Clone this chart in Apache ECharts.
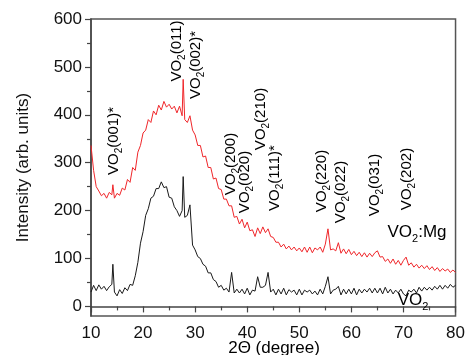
<!DOCTYPE html>
<html>
<head>
<meta charset="utf-8">
<script src="https://cdn.jsdelivr.net/npm/echarts@6/dist/echarts.min.js"></script>
<style>
html, body { margin: 0; padding: 0; background: #fff; }
#main { width: 468px; height: 355px; }
</style>
</head>
<body>
<div id="main"></div>
<script>
// 2theta positions (degree)
var angles = [
    10, 10.5, 11, 11.5, 12, 12.5, 13, 13.5, 14, 14.2, 14.5,
    15, 15.5, 16, 16.5, 17, 17.5, 18, 18.5, 19, 19.5,
    20, 20.5, 21, 21.5, 22, 22.5, 23, 23.5, 24, 24.5,
    25, 25.5, 26, 26.5, 27, 27.5, 27.7, 28, 28.5, 29, 29.5,
    30, 30.5, 31, 31.5, 32, 32.5, 33, 33.5, 34, 34.5,
    35, 35.5, 36, 36.5, 37, 37.5, 38, 38.5, 39, 39.5,
    40, 40.5, 41, 41.5, 42, 42.5, 43, 43.5, 44, 44.5,
    45, 45.5, 46, 46.5, 47, 47.5, 48, 48.5, 49, 49.5,
    50, 50.5, 51, 51.5, 52, 52.5, 53, 53.5, 54, 54.5,
    55, 55.5, 56, 56.5, 57, 57.5, 58, 58.5, 59, 59.5,
    60, 60.5, 61, 61.5, 62, 62.5, 63, 63.5, 64, 64.5,
    65, 65.5, 66, 66.5, 67, 67.5, 68, 68.5, 69, 69.5,
    70, 70.5, 71, 71.5, 72, 72.5, 73, 73.5, 74, 74.5,
    75, 75.5, 76, 76.5, 77, 77.5, 78, 78.5, 79, 79.5, 80
];

// VO2:Mg (red)
var vo2Mg = [
    336, 284, 250, 241, 231, 236, 226, 238, 233, 254, 226,
    236, 232, 247, 243, 265, 259, 290, 284, 322, 336,
    362, 368, 390, 384, 408, 400, 420, 410, 428, 416,
    422, 412, 418, 404, 418, 398, 474, 390, 384, 398, 368,
    358, 336, 336, 312, 314, 290, 290, 266, 268, 246,
    244, 224, 224, 210, 210, 186, 188, 172, 182, 164,
    176, 158, 160, 146, 164, 152, 166, 154, 162, 146,
    144, 134, 134, 124, 130, 120, 126, 118, 124, 116,
    122, 114, 124, 113, 124, 112, 122, 118, 124, 113,
    130, 162, 118, 120, 116, 133, 111, 120, 110, 119,
    108, 115, 106, 113, 104, 112, 103, 111, 104, 112,
    116, 103, 104, 94, 99, 90, 99, 88, 96, 86,
    96, 103, 86, 91, 82, 88, 80, 86, 79, 85,
    77, 83, 75, 81, 73, 79, 74, 78, 71, 76, 71
];

// VO2 (black)
var vo2 = [
    30, 44, 33, 45, 36, 42, 33, 41, 46, 88, 30,
    22, 35, 27, 39, 33, 46, 44, 64, 92, 132,
    156, 190, 204, 226, 230, 246, 246, 260, 248, 250,
    228, 226, 208, 200, 188, 200, 271, 186, 190, 212, 128,
    118, 104, 100, 88, 84, 70, 70, 56, 52, 40,
    44, 34, 38, 30, 71, 28, 36, 28, 36, 26,
    38, 24, 34, 32, 62, 40, 40, 44, 71, 30,
    36, 24, 36, 26, 38, 24, 35, 30, 34, 24,
    36, 24, 34, 30, 34, 26, 32, 24, 36, 26,
    42, 62, 26, 34, 36, 42, 24, 36, 26, 36,
    26, 38, 24, 36, 28, 36, 30, 38, 28, 38,
    28, 38, 26, 40, 28, 36, 26, 34, 28, 36,
    26, 22, 34, 30, 36, 28, 40, 32, 40, 34,
    40, 34, 42, 36, 44, 36, 44, 38, 46, 40, 44
];

var yTicks = [0, 100, 200, 300, 400, 500, 600];
var yMinorTicks = [50, 150, 250, 350, 450, 550];

// reflection labels, all "VO2(hkl)"
var peakNames = ['(001)*', '(011)', '(002)*', '(200)', '(020)', '(210)', '(111)*', '(220)', '(022)', '(031)', '(202)'];
// label centres in pixels
var peakSpots = [[115, 141], [178, 51], [197, 65], [232, 164], [246, 182], [262, 119], [276, 178], [323, 181], [342, 192], [376, 185], [408, 179]];

var FONT = "'Liberation Sans', Arial, sans-serif";
var AXIS_COLOR = '#444';

function richVO2(size) {
    return {
        n: {fontSize: size, fontFamily: FONT, color: '#111', verticalAlign: 'top'},
        s: {fontSize: Math.round(size * 0.65), fontFamily: FONT, color: '#111', verticalAlign: 'top', padding: [Math.round(size * 0.5), 0, 0, 0]}
    };
}

function textEl(str, x, y, size, rot) {
    return {
        type: 'text',
        x: x,
        y: y,
        rotation: rot,
        z: 100,
        style: {
            text: str,
            rich: richVO2(size),
            align: 'center',
            verticalAlign: 'middle',
            textAlign: 'center',
            textVerticalAlign: 'middle'
        }
    };
}

var graphics = peakNames.map(function (name, i) {
    return textEl('{n|VO}{s|2}{n|' + name + '}', peakSpots[i][0], peakSpots[i][1], 15, Math.PI / 2);
});
graphics.push(textEl('{n|VO}{s|2}{n|:Mg}', 417, 234, 17, 0));
graphics.push(textEl('{n|VO}{s|2}', 413, 302, 17, 0));
// x axis title, sits low and is cut by the bottom edge like the original
graphics.push(textEl('{n|2\u0398 (degree)}', 274, 348, 17, 0));

var chart = echarts.init(document.getElementById('main'));

chart.setOption({
    animation: false,
    backgroundColor: '#fff',
    grid: {
        left: 91, right: 12, top: 19, bottom: 39,
        show: true, borderColor: '#555', borderWidth: 1.5
    },
    xAxis: {
        type: 'value',
        min: 10, max: 80, interval: 10,
        axisLine: {show: true, lineStyle: {color: AXIS_COLOR, width: 1.5}},
        axisTick: {show: true, inside: false, length: 6, lineStyle: {color: AXIS_COLOR, width: 1.2}},
        minorTick: {show: true, splitNumber: 2, length: 4, lineStyle: {color: AXIS_COLOR, width: 1.2}},
        axisLabel: {fontSize: 17, fontFamily: FONT, color: '#111', margin: 9},
        splitLine: {show: false}
    },
    yAxis: [{
        type: 'value',
        min: -20, max: 600,
        name: 'Intensity (arb. units)',
        nameLocation: 'middle',
        nameGap: 59,
        nameTextStyle: {fontSize: 17, fontFamily: FONT, color: '#111'},
        axisLine: {show: true, lineStyle: {color: AXIS_COLOR, width: 1.5}},
        axisTick: {show: true, inside: false, length: 6, customValues: yTicks, lineStyle: {color: AXIS_COLOR, width: 1.2}},
        axisLabel: {fontSize: 17, fontFamily: FONT, color: '#111', margin: 9, customValues: yTicks},
        splitLine: {show: false}
    }, {
        type: 'value',
        min: -20, max: 600,
        position: 'left',
        axisLine: {show: false},
        axisTick: {show: true, inside: false, length: 4, customValues: yMinorTicks, lineStyle: {color: AXIS_COLOR, width: 1.2}},
        axisLabel: {show: false},
        splitLine: {show: false}
    }],
    series: [{
        name: 'VO2',
        type: 'line',
        showSymbol: false,
        data: angles.map(function (a, i) { return [a, vo2[i]]; }),
        lineStyle: {color: '#1a1a1a', width: 1},
        itemStyle: {color: '#1a1a1a'}
    }, {
        name: 'VO2:Mg',
        type: 'line',
        showSymbol: false,
        data: angles.map(function (a, i) { return [a, vo2Mg[i]]; }),
        lineStyle: {color: '#f0262a', width: 1},
        itemStyle: {color: '#f0262a'}
    }],
    graphic: graphics
});
</script>
</body>
</html>
